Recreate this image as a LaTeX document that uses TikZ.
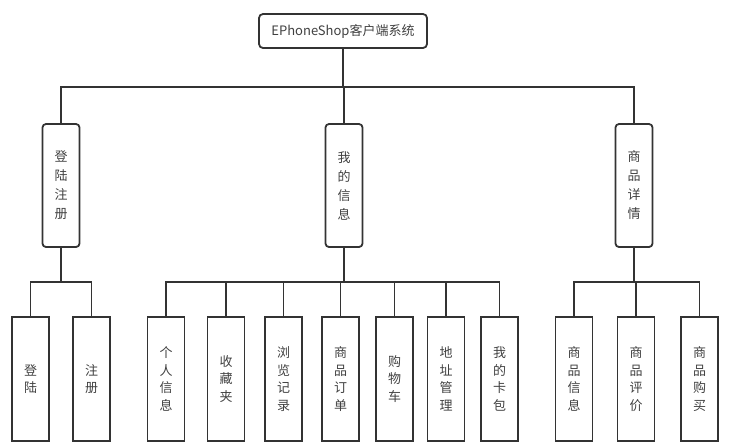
\documentclass[tikz,border=0pt]{standalone}
\usepackage{fontspec}
\setmainfont{Noto Sans CJK SC}
\begin{document}
\begin{tikzpicture}[x=1pt,y=-1pt,
  ink/.style={draw=black!80, line width=1.8pt},
  rootbox/.style={ink, rounded corners=4pt, minimum width=168pt, minimum height=34pt,
    inner sep=0pt, font=\fontsize{13}{15}\selectfont, text=black!75},
  midbox/.style={ink, rounded corners=3.5pt, minimum width=37pt, minimum height=123pt,
    inner sep=0pt, align=center, font=\fontsize{13}{19}\selectfont, text=black!75},
  leafbox/.style={ink, minimum width=37pt, minimum height=124pt,
    inner sep=0pt, align=center, font=\fontsize{13}{17.5}\selectfont, text=black!75},
  link/.style={draw=black!80, line width=1.8pt}
]
\useasboundingbox (0,0) rectangle (729,445);

% root
\node[rootbox] (root) at (343,31) {EPhoneShop客户端系统};

% second level
\node[midbox] (reg)  at (61,185.5)  {登\\陆\\注\\册};
\node[midbox] (mine) at (344,185.5) {我\\的\\信\\息};
\node[midbox] (det)  at (634,185.5) {商\\品\\详\\情};

% leaves
\node[leafbox] (l1) at (30.5,379) {登\\陆};
\node[leafbox] (l2) at (91.5,379) {注\\册};

\node[leafbox] (m1) at (166,379) {个\\人\\信\\息};
\node[leafbox] (m2) at (226,379) {收\\藏\\夹};
\node[leafbox] (m3) at (283.5,379) {浏\\览\\记\\录};
\node[leafbox] (m4) at (340.5,379) {商\\品\\订\\单};
\node[leafbox] (m5) at (394.5,379) {购\\物\\车};
\node[leafbox] (m6) at (446,379) {地\\址\\管\\理};
\node[leafbox] (m7) at (499.5,379) {我\\的\\卡\\包};

\node[leafbox] (d1) at (574,379) {商\\品\\信\\息};
\node[leafbox] (d2) at (636,379) {商\\品\\评\\价};
\node[leafbox] (d3) at (699.5,379) {商\\品\\购\\买};

% bus levels
\coordinate (busA) at (0,87);
\coordinate (busB) at (0,282);

% root to second level
\foreach \t in {reg,mine,det}
  \draw[link] (root.south) -- (root.south |- busA) -| (\t.north);

% second level to leaves
\foreach \t in {l1,l2}
  \draw[link] (reg.south) -- (reg.south |- busB) -| (\t.north);
\foreach \t in {m1,m2,m3,m4,m5,m6,m7}
  \draw[link] (mine.south) -- (mine.south |- busB) -| (\t.north);
\foreach \t in {d1,d2,d3}
  \draw[link] (det.south) -- (det.south |- busB) -| (\t.north);
\end{tikzpicture}
\end{document}
